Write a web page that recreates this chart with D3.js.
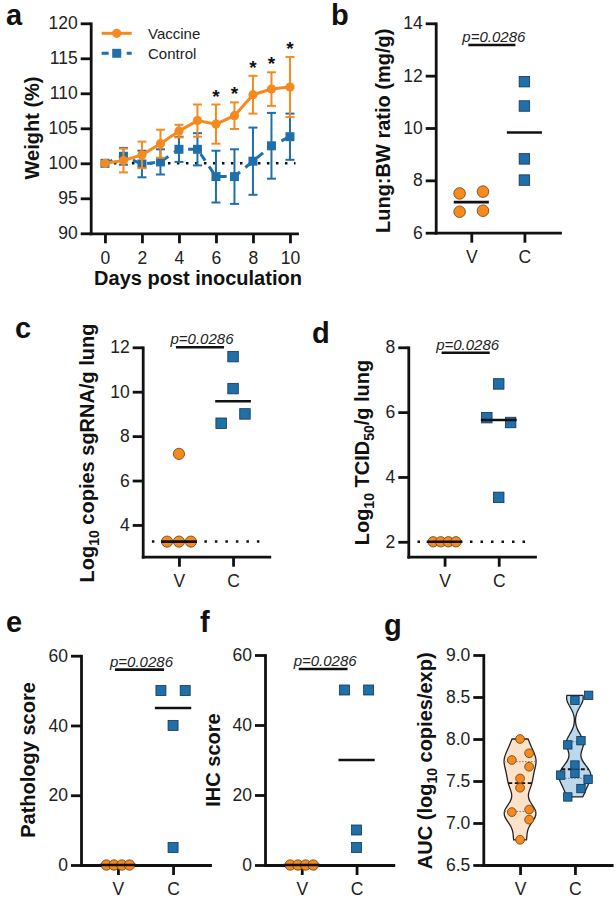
<!DOCTYPE html>
<html><head><meta charset="utf-8">
<script src="https://cdn.jsdelivr.net/npm/d3@7"></script>
<style>
body{margin:0;background:#fff;}
svg{display:block;font-family:"Liberation Sans",Arial,sans-serif;}
.axis path,.axis line{stroke:#111;stroke-width:2.8;}
.axis path{stroke-linecap:square;}
.axis text{font-size:17.5px;fill:#222;font-family:"Liberation Sans",Arial,sans-serif;}
.title{font-weight:bold;font-size:20px;fill:#111;}
.letter{font-weight:bold;font-size:29px;fill:#111;}
.pval{font-style:italic;font-size:15px;fill:#222;}
.legend{font-size:15px;fill:#222;}
</style></head><body>
<svg id="fig" width="616" height="899"></svg>
<script>
// ---------------- DATA ----------------
const days = [0,1,2,3,4,5,6,7,8,9,10];
const vaccineMean = [100,100.4,101.2,102.8,104.6,106.1,105.6,106.8,109.8,110.6,110.9];
const vaccineSD   = [0,1.7,1.9,2.0,0.9,2.3,2.8,1.9,2.7,2.4,4.3];
const controlMean = [100,101.0,99.9,100.2,102.0,102.0,98.1,98.1,100.3,102.5,103.8];
const controlSD   = [0,1.2,1.9,1.8,1.8,2.3,3.7,3.9,4.8,4.7,3.3];
const sigDays = [6,7,8,9,10];
const weightTicks = [90,95,100,105,110,115,120];
const dayTicks = [0,2,4,6,8,10];
const seriesNames = ["Vaccine","Control"];
const groups = ["V","C"];
const pText = "p=0.0286";

const lungV = [7.50,7.57,6.80,6.84];
const lungC = [11.77,10.84,8.82,8.01];
const sgV = [3.25,3.25,3.25,7.2];
const sgC = [11.58,10.14,8.58,9.0];
const sgLOD = 3.25;
const tcidV = [2,2,2,2];
const tcidC = [6.87,5.83,5.68,3.37];
const tcidLOD = 2;
const pathV = [0,0,0,0];
const pathC = [50,50,40,5];
const ihcV = [0,0,0,0];
const ihcC = [50,50,10,5];
const aucV = [8.00,7.83,7.75,7.67,7.53,7.42,7.13,7.16,7.04,6.80];
const aucC = [8.46,8.52,7.93,7.98,7.69,7.59,7.57,7.52,7.41,7.31];

// jitter of scatter points, in category units
const lungVJit = [-0.22,0.22,-0.22,0.22], lungCJit = [0,0,0,0];
const sgVJit = [-0.22,0,0.22,0], sgCJit = [0,0,-0.22,0.22];
const quadJit = [-0.21,-0.07,0.07,0.21];
const tcidCJit = [0,-0.22,0.22,0];
const pathCJit = [-0.22,0.22,0,0];
const ihcCJit = [-0.22,0.22,0,0];
const aucVJit = [0,0.165,-0.15,0.165,0,0,-0.15,0.165,0.165,0];
const aucCJit = [0,0.25,-0.13,0.11,0,0,-0.26,0.24,0.11,-0.13];

// ---------------- DRAW ----------------
const svg = d3.select("#fig");
svg.append("rect").attr("width",616).attr("height",899).attr("fill","#fff");
const ORANGE = "#F58A1F", BLUE = "#1F6FAB", INK = "#111";
const ORANGE_EDGE = "#6b3d12", BLUE_EDGE = "#16324d";

function letter(t,x,y){ svg.append("text").attr("class","letter").attr("x",x).attr("y",y).text(t); }

function rotTitle(x, cy, parts){
  const t = svg.append("text").attr("class","title")
    .attr("transform",`translate(${x},${cy}) rotate(-90)`).attr("text-anchor","middle");
  let shifted = false;
  parts.forEach(p=>{
    const ts = t.append("tspan").text(p.t);
    if(p.sub){ ts.attr("font-size","14px").attr("dy", shifted ? 0 : 5); shifted = true; }
    else if(shifted){ ts.attr("dy",-5); shifted = false; }
  });
}

function yAxis(y, x0, ticks, fmt){
  const ax = d3.axisLeft(y).tickValues(ticks).tickSize(10).tickPadding(3).tickSizeOuter(0);
  if(fmt) ax.tickFormat(fmt);
  svg.append("g").attr("class","axis").attr("transform",`translate(${x0},0)`).call(ax);
}
function xAxis(x, yb, ticks, fmt){
  const ax = d3.axisBottom(x).tickValues(ticks).tickSize(10).tickPadding(8).tickSizeOuter(0);
  if(fmt) ax.tickFormat(fmt);
  svg.append("g").attr("class","axis").attr("transform",`translate(0,${yb})`).call(ax);
}

function drawCircles(g, pts, r){
  g.selectAll(null).data(pts).enter().append("circle")
    .attr("cx",d=>d[0]).attr("cy",d=>d[1]).attr("r",r)
    .attr("fill",ORANGE).attr("stroke",ORANGE_EDGE).attr("stroke-width",0.8);
}
function drawSquares(g, pts, s){
  g.selectAll(null).data(pts).enter().append("rect")
    .attr("x",d=>d[0]-s/2).attr("y",d=>d[1]-s/2).attr("width",s).attr("height",s)
    .attr("fill",BLUE).attr("stroke",BLUE_EDGE).attr("stroke-width",0.8);
}

function pBar(g, x, y, yv){
  const x1 = x(0)-3, x2 = x(1)-9, yy = y(yv);
  g.append("line").attr("x1",x1).attr("x2",x2).attr("y1",yy).attr("y2",yy)
    .attr("stroke",INK).attr("stroke-width",2.6);
  g.append("text").attr("class","pval").attr("x",(x1+x2)/2+2).attr("y",yy-3)
    .attr("text-anchor","middle").text(pText);
}

// ---------- Panel a ----------
(function(){
  const g = svg.append("g");
  const x = d3.scaleLinear().domain([-0.77,10.38]).range([90.7,297]);
  const y = d3.scaleLinear().domain([90,120]).range([233.3,23.3]);
  g.append("line").attr("x1",x(0)).attr("x2",x(10.3)).attr("y1",y(100)).attr("y2",y(100))
    .attr("stroke",INK).attr("stroke-width",2.5).attr("stroke-dasharray","2.5,6.5");
  yAxis(y, 90.7, weightTicks, d3.format("d"));
  xAxis(x, 233.3, dayTicks, d3.format("d"));
  const cap = 4.5;
  function errs(mean, sd, color){
    days.forEach((d,i)=>{
      if(!sd[i]) return;
      const cx = x(d), yt = y(mean[i]+sd[i]), yb = y(mean[i]-sd[i]);
      g.append("line").attr("x1",cx).attr("x2",cx).attr("y1",yt).attr("y2",yb).attr("stroke",color).attr("stroke-width",2);
      [yt,yb].forEach(yy=>g.append("line").attr("x1",cx-cap).attr("x2",cx+cap).attr("y1",yy).attr("y2",yy).attr("stroke",color).attr("stroke-width",2));
    });
  }
  const line = d3.line().x((d,i)=>x(days[i])).y(d=>y(d));
  // control
  errs(controlMean, controlSD, BLUE);
  g.append("path").attr("d",line(controlMean)).attr("fill","none").attr("stroke",BLUE)
    .attr("stroke-width",3).attr("stroke-dasharray","8,7");
  g.selectAll(null).data(controlMean).enter().append("rect")
    .attr("x",(d,i)=>x(days[i])-4.5).attr("y",d=>y(d)-4.5).attr("width",9).attr("height",9).attr("fill",BLUE);
  // vaccine
  errs(vaccineMean, vaccineSD, ORANGE);
  g.append("path").attr("d",line(vaccineMean)).attr("fill","none").attr("stroke",ORANGE).attr("stroke-width",3);
  g.selectAll(null).data(vaccineMean).enter().append("circle")
    .attr("cx",(d,i)=>x(days[i])).attr("cy",d=>y(d)).attr("r",4.6).attr("fill",ORANGE);
  // significance stars
  sigDays.forEach(d=>{
    const i = days.indexOf(d);
    g.append("text").attr("x",x(d)).attr("y",y(vaccineMean[i]+vaccineSD[i])-2)
      .attr("text-anchor","middle").attr("font-size","19px").attr("font-weight","bold").attr("fill",INK).text("*");
  });
  // legend
  g.append("line").attr("x1",101.7).attr("x2",131.7).attr("y1",33.3).attr("y2",33.3).attr("stroke",ORANGE).attr("stroke-width",3);
  g.append("circle").attr("cx",116.7).attr("cy",33.3).attr("r",4.6).attr("fill",ORANGE);
  g.append("text").attr("class","legend").attr("x",148).attr("y",38.5).text(seriesNames[0]);
  g.append("line").attr("x1",101.7).attr("x2",131.7).attr("y1",53.3).attr("y2",53.3).attr("stroke",BLUE).attr("stroke-width",3).attr("stroke-dasharray","7,5.5,0,0");
  g.append("rect").attr("x",112.2).attr("y",48.8).attr("width",9).attr("height",9).attr("fill",BLUE);
  g.append("text").attr("class","legend").attr("x",148).attr("y",59).text(seriesNames[1]);
  rotTitle(39, 128, [{t:"Weight (%)"}]);
  svg.append("text").attr("class","title").attr("x",198).attr("y",285).attr("text-anchor","middle").text("Days post inoculation");
  letter("a",6,25);
})();

// ---------- Dot panels ----------
function dotPanel(o){
  const g = svg.append("g");
  const x = d3.scaleLinear().domain([-0.67,1.67]).range(o.xRange);
  const y = d3.scaleLinear().domain(o.yDomain).range(o.yRange);
  if(o.lod!=null){
    g.append("line").attr("x1",x(-0.5)).attr("x2",x(1.56)).attr("y1",y(o.lod)).attr("y2",y(o.lod))
      .attr("stroke",INK).attr("stroke-width",2.5).attr("stroke-dasharray","2.5,8");
  }
  yAxis(y, o.xRange[0], o.ticks, d3.format("d"));
  xAxis(x, o.yRange[0], [0,1], i=>groups[i]);
  const pg = svg.append("g");
  drawCircles(pg, o.v.map((v,i)=>[x(o.vJit[i]), y(v)]), o.r);
  drawSquares(pg, o.c.map((v,i)=>[x(1+o.cJit[i]), y(v)]), o.s);
  [[o.v,0],[o.c,1]].forEach(([vals,k])=>{
    const m = d3.median(vals);
    pg.append("line").attr("x1",x(k-0.33)).attr("x2",x(k+0.33)).attr("y1",y(m)).attr("y2",y(m))
      .attr("stroke",INK).attr("stroke-width",2.6);
  });
  pBar(pg, x, y, o.pY);
  rotTitle(o.titleX, o.titleCY, o.title);
  letter(o.letter, o.lx, o.ly);
}

dotPanel({xRange:[435.7,560], yDomain:[6,14], yRange:[232.7,23.3], ticks:[6,8,10,12,14],
  v:lungV, vJit:lungVJit, c:lungC, cJit:lungCJit, r:5.8, s:10.5, pY:13.17,
  title:[{t:"Lung:BW ratio (mg/g)"}], titleX:390, titleCY:130.8, letter:"b", lx:331, ly:25});

dotPanel({xRange:[142.7,269.3], yDomain:[2.57,12], yRange:[556.7,347.3], ticks:[4,6,8,10,12],
  v:sgV, vJit:sgVJit, c:sgC, cJit:sgCJit, r:5.6, s:10.5, pY:12, lod:sgLOD,
  title:[{t:"Log"},{t:"10",sub:true},{t:" copies sgRNA/g lung"}], titleX:94, titleCY:453, letter:"c", lx:15, ly:338});

dotPanel({xRange:[408.3,535], yDomain:[1.54,8], yRange:[556.7,347.3], ticks:[2,4,6,8],
  v:tcidV, vJit:quadJit, c:tcidC, cJit:tcidCJit, r:5.2, s:10.5, pY:7.83, lod:tcidLOD,
  title:[{t:"Log"},{t:"10",sub:true},{t:" TCID"},{t:"50",sub:true},{t:"/g lung"}], titleX:369, titleCY:452.5, letter:"d", lx:312, ly:343});

dotPanel({xRange:[81,210], yDomain:[0,60], yRange:[865,655.7], ticks:[0,20,40,60],
  v:pathV, vJit:quadJit, c:pathC, cJit:pathCJit, r:5.2, s:10, pY:56,
  title:[{t:"Pathology score"}], titleX:35, titleCY:760, letter:"e", lx:6, ly:632});

dotPanel({xRange:[265,393.3], yDomain:[0,60], yRange:[865,655], ticks:[0,20,40,60],
  v:ihcV, vJit:quadJit, c:ihcC, cJit:ihcCJit, r:5.2, s:10, pY:56,
  title:[{t:"IHC score"}], titleX:220, titleCY:760, letter:"f", lx:200, ly:632});

// ---------- Panel g (violins) ----------
(function(){
  const g = svg.append("g");
  const x = d3.scaleLinear().domain([-0.67,1.67]).range([483.3,611.7]);
  const y = d3.scaleLinear().domain([6.5,9.0]).range([865,655]);
  yAxis(y, 483.3, [6.5,7.0,7.5,8.0,8.5,9.0], d3.format(".1f"));
  xAxis(x, 865, [0,1], i=>groups[i]);
  function kde(vals, bw){
    const lo = d3.min(vals), hi = d3.max(vals), n = 80;
    return d3.range(n+1).map(i=>{
      const t = lo + (hi-lo)*i/n;
      return [t, d3.mean(vals, v=>Math.exp(-0.5*((t-v)/bw)**2))];
    });
  }
  function dens(vals,bw,t){ return d3.mean(vals, v=>Math.exp(-0.5*((t-v)/bw)**2)); }
  const specs = [
    {vals:aucV, k:0, fill:"#FDE2CA", bw:0.11},
    {vals:aucC, k:1, fill:"#BCD8EC", bw:0.1}
  ];
  specs.forEach(sp=>{
    const d = kde(sp.vals, sp.bw);
    const mx = d3.max(d, e=>e[1]);
    const w = v => v/mx*16;
    const cx = x(sp.k);
    const area = d3.area().y(e=>y(e[0])).x0(e=>cx-w(e[1])).x1(e=>cx+w(e[1])).curve(d3.curveBasis);
    g.append("path").attr("d",area(d)).attr("fill",sp.fill).attr("stroke","#222").attr("stroke-width",1.3);
    const sorted = sp.vals.slice().sort(d3.ascending);
    const q1 = d3.quantile(sorted,0.25), q3 = d3.quantile(sorted,0.75), med = d3.median(sorted);
    [q1,q3].forEach(q=>{
      const hw = w(dens(sp.vals,sp.bw,q));
      g.append("line").attr("x1",cx-hw).attr("x2",cx+hw).attr("y1",y(q)).attr("y2",y(q))
        .attr("stroke","#777").attr("stroke-width",1).attr("stroke-dasharray","1.5,1.5");
    });
    const hw = w(dens(sp.vals,sp.bw,med));
    g.append("line").attr("x1",cx-hw).attr("x2",cx+hw).attr("y1",y(med)).attr("y2",y(med))
      .attr("stroke","#111").attr("stroke-width",1.8).attr("stroke-dasharray","4,2.5");
  });
  drawCircles(g, aucV.map((v,i)=>[x(aucVJit[i]), y(v)]), 4.4);
  drawSquares(g, aucC.map((v,i)=>[x(1+aucCJit[i]), y(v)]), 8.4);
  rotTitle(431.7, 760.8, [{t:"AUC (log"},{t:"10",sub:true},{t:" copies/exp)"}]);
  letter("g",384,635);
})();
</script>
</body></html>
